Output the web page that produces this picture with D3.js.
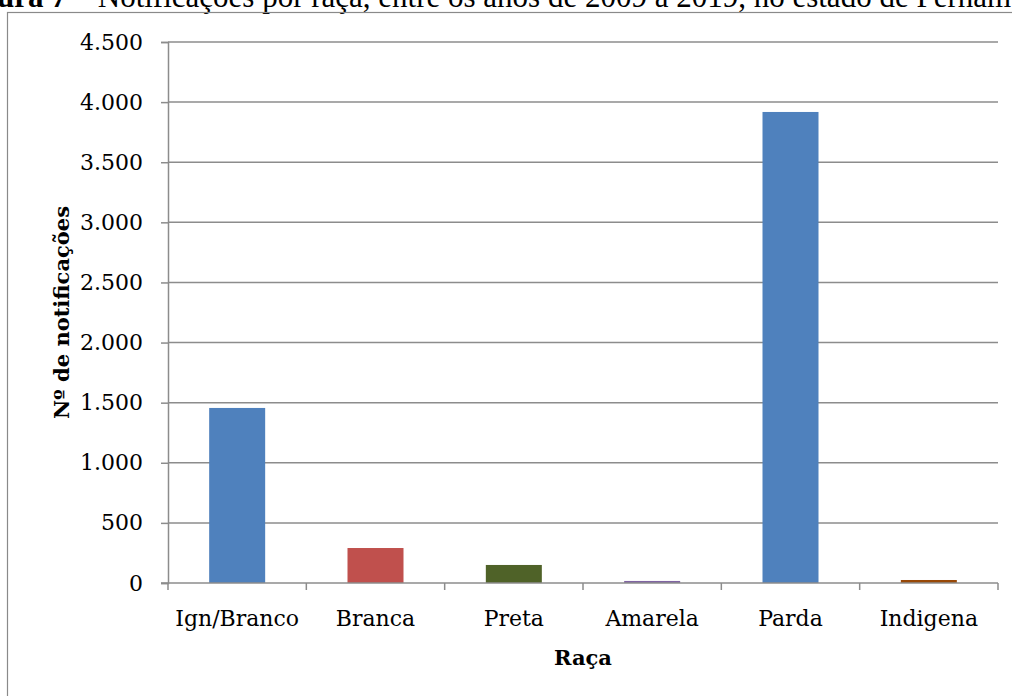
<!DOCTYPE html>
<html>
<head>
  <meta charset="utf-8">
  <script src="https://cdn.jsdelivr.net/npm/d3@7"></script>
  <style>
    body { margin: 0; background: #fff; }
    svg { display: block; }
  </style>
</head>
<body>
  <div id="chart"></div>
  <script>
    // data
    const categories = ["Ign/Branco", "Branca", "Preta", "Amarela", "Parda", "Indigena"]
    const values = [1456, 291, 150, 17, 3918, 25]
    const barColors = ["#4F81BD", "#C0504D", "#4F6228", "#8064A2", "#4F81BD", "#984807"]
    const yTicks = [0, 500, 1000, 1500, 2000, 2500, 3000, 3500, 4000, 4500]

    const width = 1012
    const height = 696
    const plot = { left: 168, right: 998, top: 42, bottom: 583 }
    const tickFont = "'DejaVu Serif', serif"

    const svg = d3.select("#chart")
      .append("svg")
      .attr("width", width)
      .attr("height", height)

    // figure caption, clipped at the page edges like the original
    const title = svg.append("text")
      .attr("x", -3)
      .attr("y", 7)
      .style("font-family", "'Liberation Serif', 'Times New Roman', serif")
      .style("font-size", "31px")
    title.append("tspan").style("font-weight", "bold").text("ura 7")
    title.append("tspan").text(" – Notificações por raça, entre os anos de 2009 a 2019, no estado de Pernambuco")

    // outer frame
    svg.append("rect")
      .attr("x", 7.5)
      .attr("y", 12.5)
      .attr("width", 1100)
      .attr("height", 800)
      .attr("fill", "none")
      .attr("stroke", "#8a8a8a")
      .attr("stroke-width", 1.2)

    const x = d3.scaleBand()
      .domain(categories)
      .range([plot.left, plot.right])

    const y = d3.scaleLinear()
      .domain([0, 4500])
      .range([plot.bottom, plot.top])

    const barWidth = 56

    // gridlines
    svg.append("g")
      .selectAll("line")
      .data(yTicks.filter(d => d > 0))
      .enter()
      .append("line")
      .attr("x1", plot.left)
      .attr("x2", plot.right)
      .attr("y1", d => y(d))
      .attr("y2", d => y(d))
      .style("stroke", "#8c8c8c")
      .style("stroke-width", 1.5)

    // bars
    svg.append("g")
      .selectAll("rect")
      .data(values)
      .enter()
      .append("rect")
      .attr("x", (d, i) => x(categories[i]) + (x.bandwidth() - barWidth) / 2)
      .attr("y", d => y(d))
      .attr("width", barWidth)
      .attr("height", d => y(0) - y(d))
      .attr("fill", (d, i) => barColors[i])

    // y axis
    const yAxis = svg.append("g")
      .attr("transform", `translate(${plot.left},0)`)
      .call(d3.axisLeft(y).tickValues(yTicks).tickSize(7).tickPadding(18)
        .tickFormat(d => d3.format(",")(d).replace(/,/g, ".")))
    yAxis.select(".domain").style("stroke", "#8c8c8c").style("stroke-width", 1.5)
    yAxis.selectAll(".tick line").style("stroke", "#8c8c8c").style("stroke-width", 1.5)
    yAxis.selectAll("text")
      .style("font-family", tickFont)
      .style("font-size", "22px")
      .style("fill", "#000")

    // x axis: ticks at band edges
    const xAxis = svg.append("g")
    xAxis.append("line")
      .attr("x1", plot.left - 7)
      .attr("x2", plot.right)
      .attr("y1", y(0))
      .attr("y2", y(0))
      .style("stroke", "#8c8c8c")
      .style("stroke-width", 1.5)
    xAxis.selectAll(".xt")
      .data(categories.concat(["end"]))
      .enter()
      .append("line")
      .attr("x1", (d, i) => plot.left + i * x.step())
      .attr("x2", (d, i) => plot.left + i * x.step())
      .attr("y1", y(0))
      .attr("y2", y(0) + 7)
      .style("stroke", "#8c8c8c")
      .style("stroke-width", 1.5)
    xAxis.selectAll("text")
      .data(categories)
      .enter()
      .append("text")
      .attr("x", d => x(d) + x.bandwidth() / 2)
      .attr("y", 626)
      .attr("text-anchor", "middle")
      .style("font-family", tickFont)
      .style("font-size", "22px")
      .text(d => d)

    // axis titles
    svg.append("text")
      .attr("x", (plot.left + plot.right) / 2)
      .attr("y", 665)
      .attr("text-anchor", "middle")
      .style("font-family", tickFont)
      .style("font-size", "21px")
      .style("font-weight", "bold")
      .text("Raça")

    svg.append("text")
      .attr("transform", `translate(69,${(plot.top + plot.bottom) / 2}) rotate(-90)`)
      .attr("text-anchor", "middle")
      .style("font-family", tickFont)
      .style("font-size", "21px")
      .style("font-weight", "bold")
      .text("Nº de notificações")
  </script>
</body>
</html>
